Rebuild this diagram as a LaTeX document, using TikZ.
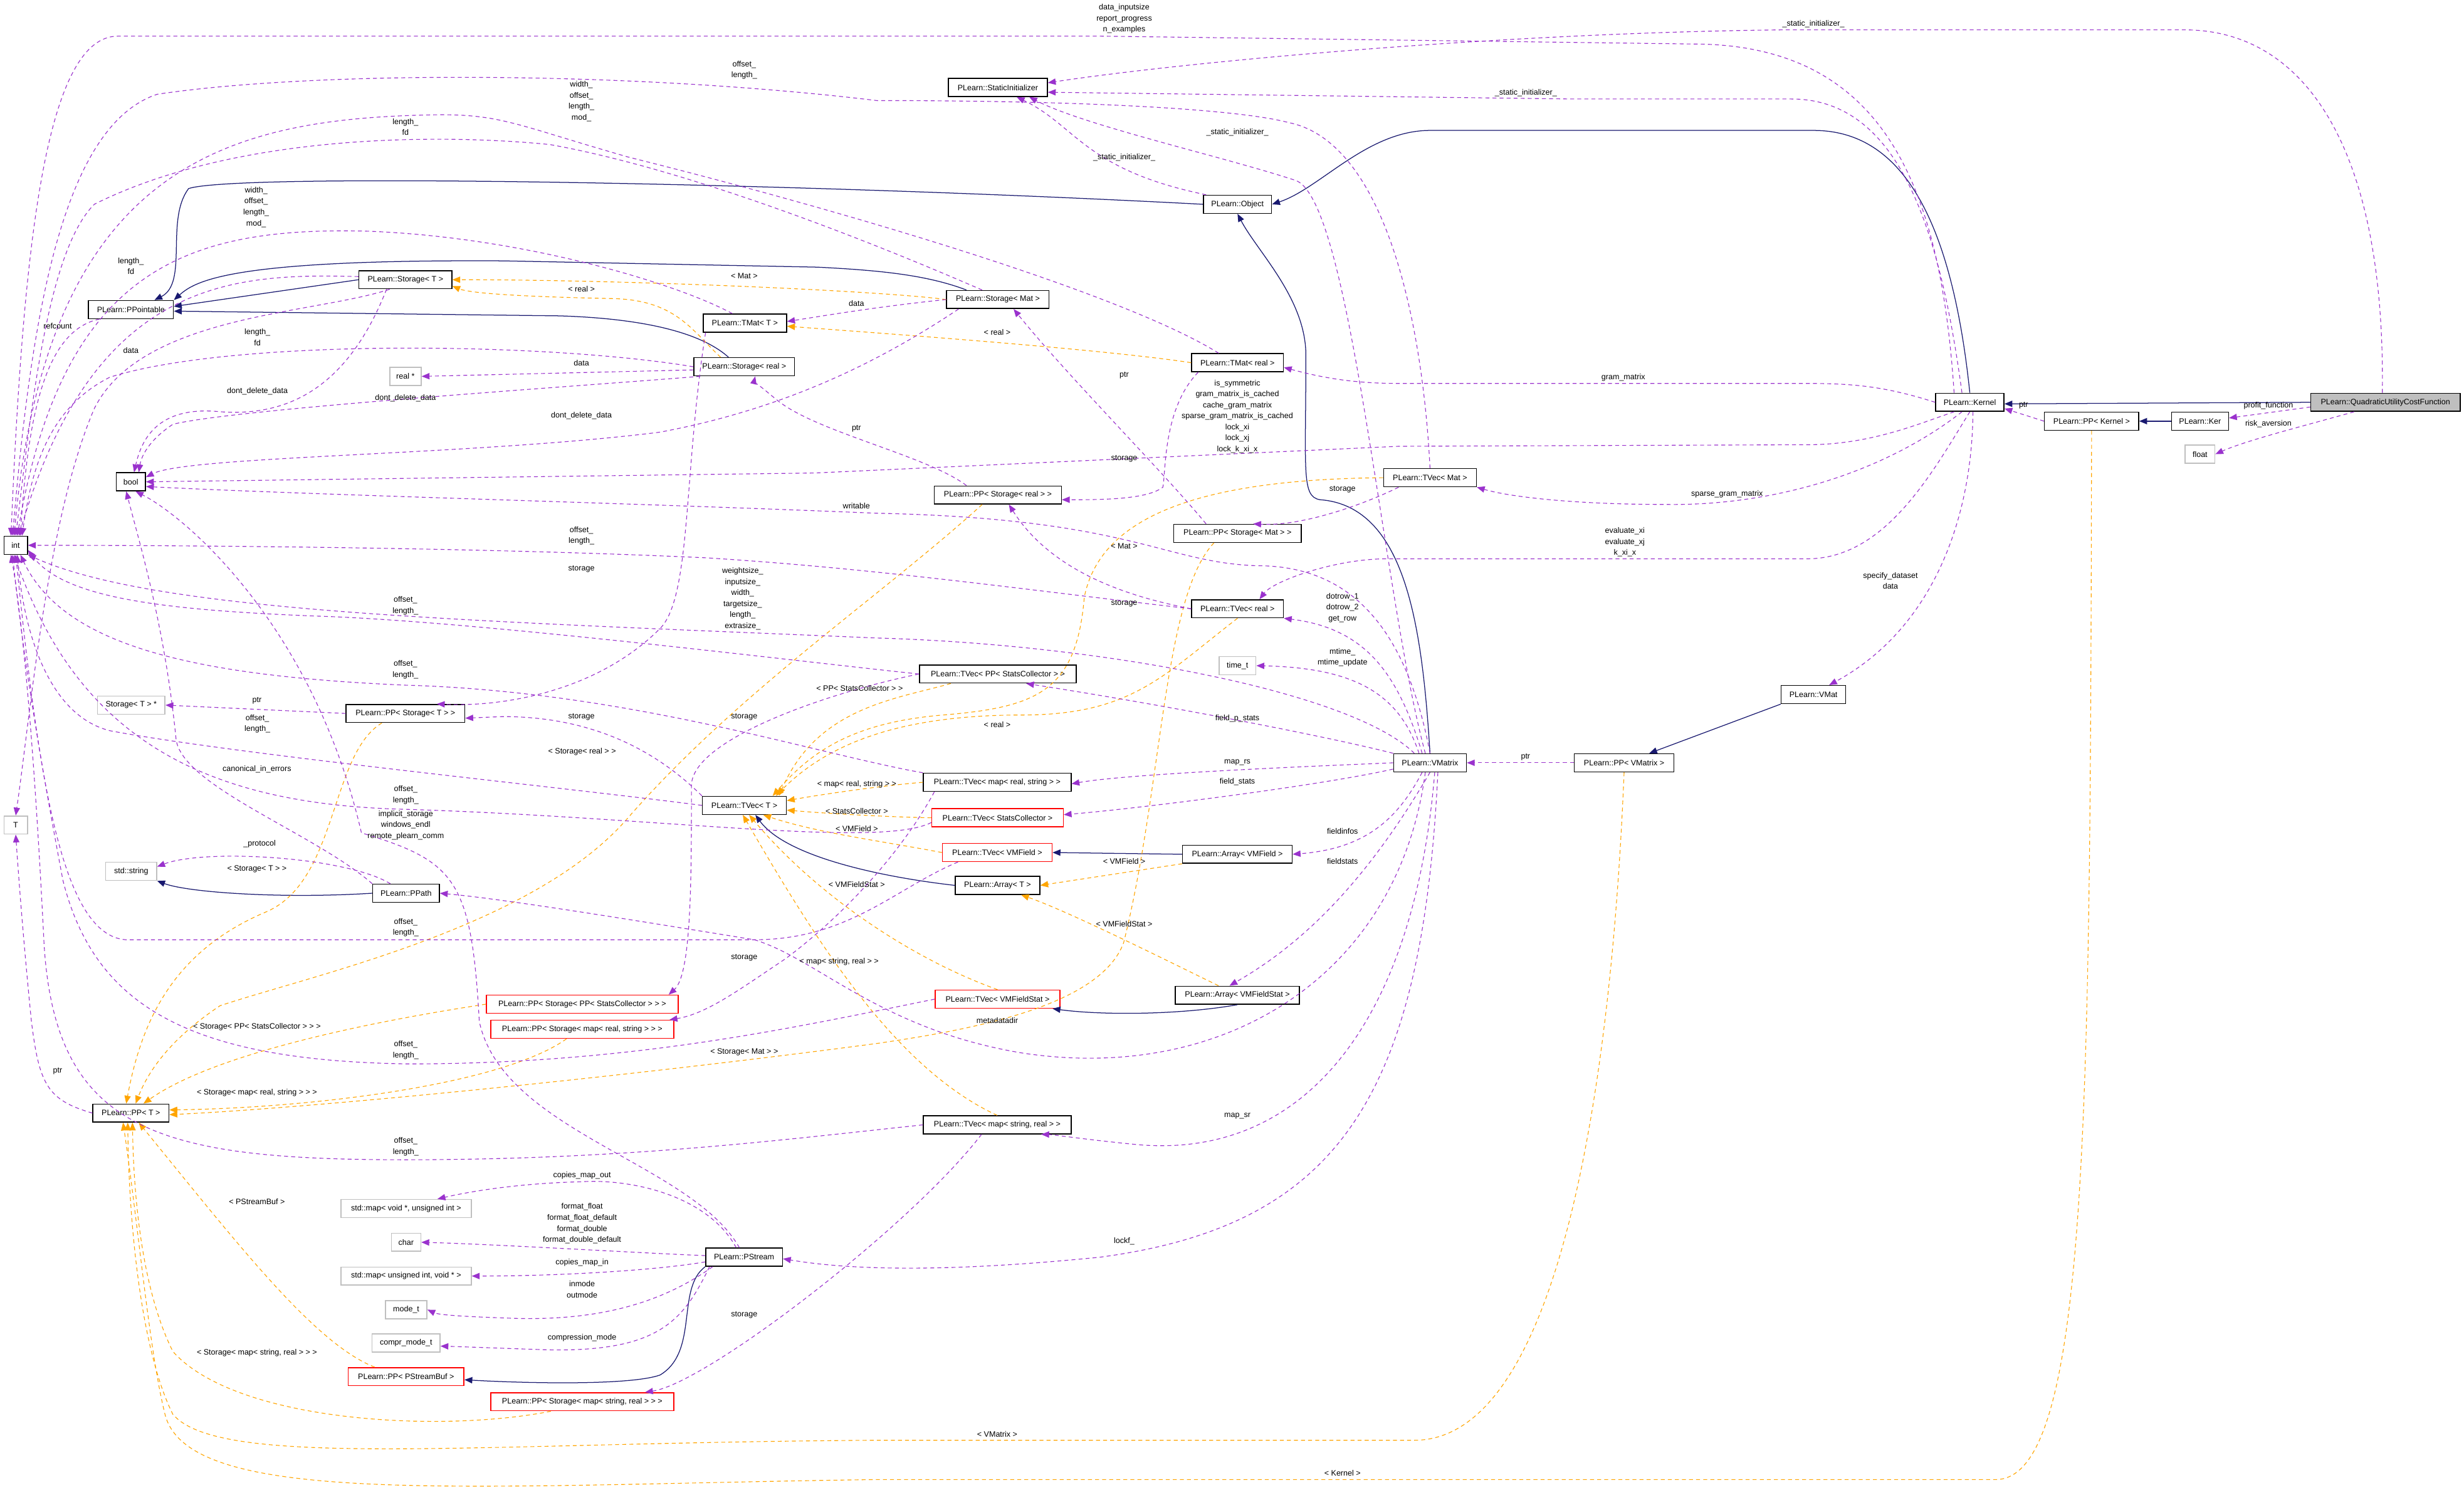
\documentclass[tikz,border=0pt]{standalone}
\usepackage{fontspec}
\setmainfont{Liberation Sans}
\usetikzlibrary{arrows.meta}
\definecolor{pu}{HTML}{9A32CD}
\definecolor{nv}{HTML}{191970}
\definecolor{og}{HTML}{FFA500}
\begin{document}
\begin{tikzpicture}[x=1pt,y=-1pt,
 cls/.style={draw=black,line width=0.6pt,minimum height=11.5pt,inner xsep=2pt,inner ysep=0pt,font=\fontsize{5}{6}\selectfont,fill=white},
 gcls/.style={cls,draw=black!25},
 rcls/.style={cls,draw=red},
 lbl/.style={font=\fontsize{5}{7}\selectfont,inner sep=0pt,align=center},
 pe/.style={draw=pu,line width=0.45pt,dash pattern=on 2.5pt off 2pt,-{Triangle[length=5pt,width=4pt]}},
 oe/.style={draw=og,line width=0.45pt,dash pattern=on 2.5pt off 2pt,-{Triangle[length=5pt,width=4pt]}},
 ne/.style={draw=nv,line width=0.5pt,-{Triangle[length=5pt,width=4pt]}}]
\useasboundingbox[fill=white] (0,0) rectangle (1568,954.5);
% nodes
\node[cls,fill=black!25,minimum width=95pt] (q) at (1518,256) {PLearn::QuadraticUtilityCostFunction};
\node[cls,minimum width=43.5pt] (kernel) at (1253.5,256) {PLearn::Kernel};
\node[cls,minimum width=60pt] (ppk) at (1331,268) {PLearn::PP< Kernel >};
\node[cls,minimum width=36.3pt] (ker) at (1400,268) {PLearn::Ker};
\node[gcls,minimum width=19pt] (float) at (1400,289) {float};
\node[cls,minimum width=41pt] (vmat) at (1154,442) {PLearn::VMat};
\node[cls,minimum width=63pt] (si) at (635,55.7) {PLearn::StaticInitializer};
\node[cls,minimum width=43.4pt] (obj) at (787.5,130) {PLearn::Object};
\node[cls,minimum width=65.2pt] (stmat) at (635,190.6) {PLearn::Storage< Mat >};
\node[cls,minimum width=58.4pt] (tmatr) at (787.5,230.8) {PLearn::TMat< real >};
\node[cls,minimum width=59pt] (tvmat) at (910,304) {PLearn::TVec< Mat >};
\node[cls,minimum width=80.8pt] (ppsr) at (635,315) {PLearn::PP< Storage< real > >};
\node[cls,minimum width=81.2pt] (ppsm) at (787.5,339.4) {PLearn::PP< Storage< Mat > >};
\node[cls,minimum width=58.4pt] (tvr) at (787.5,387.4) {PLearn::TVec< real >};
\node[gcls,minimum width=23.4pt] (timet) at (787.5,423.6) {time\_t};
\node[cls,minimum width=99.8pt] (tvppsc) at (635,428.9) {PLearn::TVec< PP< StatsCollector > >};
\node[cls,minimum width=59.1pt] (stt) at (258,178) {PLearn::Storage< T >};
\node[cls,minimum width=54.1pt] (ppt) at (83.3,197) {PLearn::PPointable};
\node[cls,minimum width=53.1pt] (tmatt) at (474,205.6) {PLearn::TMat< T >};
\node[cls,minimum width=64.1pt] (streal) at (473.6,233.4) {PLearn::Storage< real >};
\node[gcls,minimum width=20pt] (realp) at (258,239.5) {real *};
\node[cls,minimum width=18.6pt] (bool) at (83.3,306.6) {bool};
\node[cls,minimum width=15pt] (int) at (10,347) {int};
\node[gcls,minimum width=43pt] (sttp) at (83.5,448.7) {Storage< T > *};
\node[cls,minimum width=75.6pt] (ppst) at (258,454) {PLearn::PP< Storage< T > >};
\node[gcls,minimum width=15pt] (T) at (10,525) {T};
\node[cls,minimum width=53.4pt] (tvt) at (473.7,512.5) {PLearn::TVec< T >};
\node[gcls,minimum width=32.4pt] (str) at (83.5,554.5) {std::string};
\node[cls,minimum width=42.4pt] (ppath) at (258.4,568.4) {PLearn::PPath};
\node[rcls,minimum width=122pt] (ppspsc) at (370.5,639) {PLearn::PP< Storage< PP< StatsCollector > > >};
\node[rcls,minimum width=116.5pt] (ppsmrs) at (370.5,655) {PLearn::PP< Storage< map< real, string > > >};
\node[cls,minimum width=48.4pt] (ppT) at (83.3,708.3) {PLearn::PP< T >};
\node[gcls,minimum width=83pt] (mapv) at (258.4,769) {std::map< void *, unsigned int >};
\node[gcls,minimum width=18.8pt] (char) at (258.4,790.5) {char};
\node[cls,minimum width=48.9pt] (pstream) at (473.5,800) {PLearn::PStream};
\node[gcls,minimum width=83pt] (mapu) at (258.4,812) {std::map< unsigned int, void * >};
\node[gcls,minimum width=26.3pt] (modet) at (258.5,833.4) {mode\_t};
\node[gcls,minimum width=43.2pt] (comprt) at (258.4,854.6) {compr\_mode\_t};
\node[rcls,minimum width=73.7pt] (pppsb) at (258.4,876) {PLearn::PP< PStreamBuf >};
\node[rcls,minimum width=116.5pt] (ppsmsr) at (370.5,892) {PLearn::PP< Storage< map< string, real > > >};
\node[cls,minimum width=46.3pt] (vmatrix) at (910,485.4) {PLearn::VMatrix};
\node[cls,minimum width=63.4pt] (ppvm) at (1033.5,485.4) {PLearn::PP< VMatrix >};
\node[cls,minimum width=94pt] (tvmrs) at (634.6,497.8) {PLearn::TVec< map< real, string > >};
\node[rcls,minimum width=83.6pt] (tvsc) at (634.8,520.4) {PLearn::TVec< StatsCollector >};
\node[rcls,minimum width=69.8pt] (tvvmf) at (634.6,542.5) {PLearn::TVec< VMField >};
\node[cls,minimum width=69.8pt] (arrvmf) at (787.4,543.6) {PLearn::Array< VMField >};
\node[cls,minimum width=53.8pt] (arrt) at (634.8,563.4) {PLearn::Array< T >};
\node[rcls,minimum width=79.4pt] (tvvmfs) at (634.8,635.8) {PLearn::TVec< VMFieldStat >};
\node[cls,minimum width=79.1pt] (arrvmfs) at (787.4,633.3) {PLearn::Array< VMFieldStat >};
\node[cls,minimum width=94pt] (tvmsr) at (634.6,715.8) {PLearn::TVec< map< string, real > >};
% navy
\draw[ne] (q.west) -- ([yshift=-1]kernel.east);
\draw[ne] (ker.west) -- (ppk.east);
\draw[ne] (kernel.north) .. controls (1240,120) and (1200,83) .. (1154,83) -- (910,83) .. controls (870,83) and (840,120) .. (obj.east);
\draw[ne] (vmatrix.north) .. controls (905,400) and (895,322) .. (840,318) .. controls (828,316) and (831,300) .. (831,226) .. controls (831,190) and (800,160) .. (obj.south);
\draw[ne] (obj.west) .. controls (500,116) and (150,110) .. (120,120) .. controls (105,140) and (120,180) .. ([xshift=15]ppt.north);
\draw[ne] (stt.west) -- ([yshift=2]ppt.east);
\draw[ne] ([xshift=-20]stmat.north) .. controls (590,175) and (560,172) .. (520,170) -- (320,166) .. controls (150,165) and (125,178) .. (ppt.north east);
\draw[ne] ([xshift=-10]streal.north) .. controls (450,215) and (420,203) .. (356,201) -- ([yshift=-1]ppt.east);
\draw[ne] (vmat.south west) -- ([xshift=16]ppvm.north);
\draw[ne] (arrvmf.west) -- (tvvmf.east);
\draw[ne] (arrvmfs.south) .. controls (750,646) and (700,646) .. ([xshift=-5]tvvmfs.south east);
\draw[ne] (arrt.west) .. controls (560,558) and (500,545) .. ([xshift=7]tvt.south);
\draw[ne] (pstream.south west) .. controls (430,820) and (445,860) .. (420,875) .. controls (400,882) and (330,880) .. ([yshift=-2]pppsb.east);
\draw[ne] (ppath.west) .. controls (180,572) and (120,568) .. (str.south east);
% orange
\draw[oe] (stmat.west) .. controls (560,185) and (400,178) .. (stt.east);
\draw[oe] ([xshift=-15]streal.north) .. controls (440,210) and (430,191) .. (390,190) .. controls (340,189) and (300,187) .. ([yshift=-4]stt.east);
\draw[oe] (tmatr.west) .. controls (700,222) and (560,212) .. ([yshift=-2]tmatt.east);
\draw[oe] (tvmat.west) .. controls (760,305) and (700,330) .. (690,380) .. controls (685,440) and (660,450) .. (600,455) .. controls (540,460) and (515,480) .. ([xshift=18]tvt.north);
\draw[oe] (tvr.south) .. controls (740,430) and (720,455) .. (650,455) .. controls (560,455) and (520,480) .. ([xshift=20]tvt.north);
\draw[oe] ([xshift=-30]tvppsc.south) .. controls (570,445) and (520,450) .. ([xshift=22]tvt.north);
\draw[oe] (tvmrs.west) .. controls (560,500) and (520,506) .. ([yshift=3]tvt.east);
\draw[oe] (tvsc.west) .. controls (570,520) and (530,518) .. ([yshift=-3]tvt.east);
\draw[oe] (tvvmf.west) .. controls (560,535) and (520,530) .. ([xshift=12]tvt.south);
\draw[oe] (tvvmfs.north) .. controls (580,610) and (520,570) .. ([xshift=3]tvt.south);
\draw[oe] (tvmsr.north) .. controls (570,680) and (520,600) .. ([xshift=-1]tvt.south);
\draw[oe] (arrvmf.south west) -- (arrt.east);
\draw[oe] ([xshift=-12]arrvmfs.north) .. controls (740,610) and (680,580) .. ([xshift=15]arrt.south);
\draw[oe] ([xshift=-15]ppst.south) .. controls (210,480) and (215,560) .. (170,580) .. controls (110,605) and (90,650) .. ([xshift=-3]ppT.north);
\draw[oe] ([xshift=-10]ppsr.south) .. controls (560,380) and (470,440) .. (400,520) .. controls (340,590) and (200,620) .. (140,640) .. controls (110,660) and (95,680) .. ([xshift=3]ppT.north);
\draw[oe] ([xshift=-15]ppsm.south) .. controls (740,380) and (740,500) .. (715,600) .. controls (700,640) and (620,655) .. (558,664) .. controls (400,685) and (200,705) .. ([yshift=-1]ppT.east);
\draw[oe] (ppspsc.west) .. controls (250,648) and (140,668) .. ([xshift=8]ppT.north);
\draw[oe] ([xshift=-10]ppsmrs.south) .. controls (320,690) and (200,705) .. ([yshift=2]ppT.east);
\draw[oe] ([xshift=-20]pppsb.north) .. controls (200,855) and (150,790) .. ([xshift=5]ppT.south);
\draw[oe] ([xshift=-20]ppsmsr.south) .. controls (280,912) and (150,905) .. (110,860) .. controls (90,820) and (85,760) .. ([xshift=1]ppT.south);
\draw[oe] (ppvm.south) .. controls (1025,700) and (990,916.5) .. (900,916.5) -- (558,916.5) .. controls (300,918) and (140,935) .. (110,900) .. controls (90,860) and (82,780) .. ([xshift=-2]ppT.south);
\draw[oe] (ppk.south) .. controls (1330,700) and (1330,941.5) .. (1270,941.5) -- (558,941.5) .. controls (300,945) and (120,960) .. (105,900) .. controls (95,860) and (88,780) .. ([xshift=-5]ppT.south);
% purple
\draw[pe] ([yshift=-3]q.west) -- ([yshift=2]ker.east);
\draw[pe] ([xshift=-20]q.south) .. controls (1470,270) and (1430,280) .. (float.east);
\draw[pe] ([xshift=-2]q.north) .. controls (1518,100) and (1470,19) .. (1390,19) -- (1135,19) .. controls (950,21) and (750,40) .. ([yshift=3]si.east);
\draw[pe] ([xshift=-5]kernel.north) .. controls (1235,150) and (1210,63) .. (1140,63) -- (1000,63) -- ([yshift=-3]si.east);
\draw[pe] ([xshift=-10]kernel.north) .. controls (1235,120) and (1200,28) .. (1077,28) -- (700,23) -- (75,23) .. controls (30,23) and (15,150) .. ([xshift=-3]int.north);
\draw[pe] (kernel.west) .. controls (1200,246) and (1180,244) .. (1150,244) -- (890,244) .. controls (860,244) and (840,240) .. ([yshift=-3]tmatr.east);
\draw[pe] ([xshift=-10]kernel.south) .. controls (1220,270) and (1190,283) .. (1150,283) -- (890,284) -- (518,301) -- (bool.east);
\draw[pe] ([xshift=-5]kernel.south) .. controls (1200,300) and (1130,322) .. (1060,321) .. controls (1000,321) and (960,316) .. (tvmat.south east);
\draw[pe] (kernel.south) .. controls (1230,300) and (1200,355.6) .. (1150,355.6) -- (885,355.6) .. controls (850,355) and (810,370) .. ([xshift=14]tvr.north);
\draw[pe] ([xshift=2]kernel.south) .. controls (1255,330) and (1230,400) .. ([xshift=10]vmat.north);
\draw[pe] (ppk.west) -- ([yshift=-4]kernel.east);
\draw[pe] ([xshift=-20]obj.north) .. controls (690,108) and (685,80) .. ([xshift=12]si.south);
\draw[pe] ([xshift=-3]vmatrix.north) .. controls (880,380) and (860,130) .. (825,115) .. controls (780,100) and (690,80) .. ([xshift=20]si.south);
\draw[pe] (tvmat.north) .. controls (905,200) and (880,90) .. (820,78) .. controls (790,70) and (700,64) .. (558,64) .. controls (400,45) and (200,45) .. (100,60) .. controls (40,80) and (20,200) .. ([xshift=-2]int.north);
\draw[pe] ([xshift=-12]tmatr.north) .. controls (720,190) and (560,140) .. (400,100) .. controls (330,80) and (320,73) .. (280,73) .. controls (150,75) and (30,100) .. ([xshift=-1]int.north);
\draw[pe] ([xshift=-10]stmat.north) .. controls (580,165) and (450,110) .. (350,92) .. controls (280,85) and (150,85) .. (60,130) .. controls (30,160) and (20,260) .. (int.north);
\draw[pe] ([xshift=-8]tmatt.north) .. controls (430,180) and (330,150) .. (230,147) .. controls (120,145) and (40,170) .. ([xshift=1]int.north);
\draw[pe] ([yshift=2]stt.west) .. controls (150,174) and (60,176) .. ([xshift=2]int.north);
\draw[pe] ([xshift=-20]ppt.south) .. controls (30,210) and (18,260) .. ([xshift=3]int.north);
\draw[pe] (streal.west) .. controls (350,218) and (150,215) .. (70,240) .. controls (30,260) and (20,300) .. ([xshift=4]int.north);
\draw[pe] ([xshift=-10]stt.south) .. controls (200,200) and (90,200) .. (60,260) .. controls (30,330) and (20,450) .. (T.north);
\draw[pe] ([yshift=-2]streal.west) -- (realp.east);
\draw[pe] ([xshift=-12]stt.south) .. controls (220,250) and (180,265) .. (140,262) .. controls (100,258) and (90,280) .. ([xshift=2]bool.north);
\draw[pe] ([xshift=-28]streal.south) .. controls (380,245) and (150,260) .. (110,270) .. controls (95,280) and (90,290) .. ([xshift=5]bool.north);
\draw[pe] ([xshift=-25]stmat.south) .. controls (560,230) and (500,260) .. (420,275) .. controls (300,290) and (120,290) .. ([yshift=3]bool.east);
\draw[pe] (vmatrix.north) .. controls (895,400) and (860,360) .. (800,360) .. controls (740,358) and (720,330) .. (558,326.6) .. controls (400,320) and (200,315) .. ([yshift=-3]bool.east);
\draw[pe] (tvr.west) .. controls (650,375) and (560,362) .. (450,355) .. controls (300,348) and (100,347) .. (int.east);
\draw[pe] ([xshift=-10]vmatrix.north) .. controls (860,440) and (700,410) .. (558,406) .. controls (300,395) and (100,390) .. (int.south east);
\draw[pe] (tvppsc.west) .. controls (500,420) and (300,395) .. (200,392) .. controls (100,388) and (40,380) .. ([yshift=-3]int.east);
\draw[pe] (tvmrs.north west) .. controls (520,480) and (400,440) .. (258,436) .. controls (120,430) and (40,410) .. ([xshift=3]int.south);
\draw[pe] (tvt.west) .. controls (350,500) and (150,480) .. (70,465) .. controls (30,455) and (15,400) .. ([xshift=1]int.south);
\draw[pe] ([yshift=-3]tvsc.west) .. controls (560,540) and (420,520) .. (258,515) .. controls (130,512) and (50,470) .. ([xshift=-1]int.south);
\draw[pe] ([xshift=-25]tvvmf.south) .. controls (570,565) and (540,598) .. (480,598) -- (80,598) .. controls (40,595) and (25,500) .. (int.south);
\draw[pe] (tvvmfs.west) .. controls (500,655) and (400,677) .. (260,677) .. controls (120,675) and (60,640) .. (40,560) .. controls (25,480) and (15,420) .. ([xshift=-2]int.south);
\draw[pe] (tvmsr.west) .. controls (500,725) and (400,738) .. (258,738) .. controls (100,738) and (35,720) .. (28,600) .. controls (22,480) and (15,400) .. ([xshift=-3]int.south);
\draw[pe] (ppst.west) -- (sttp.east);
\draw[pe] (tvt.north west) .. controls (420,480) and (380,456) .. (320,456) -- ([yshift=-3]ppst.east);
\draw[pe] ([xshift=-25]tmatt.south) .. controls (435,300) and (440,380) .. (420,400) .. controls (380,440) and (320,450) .. ([xshift=20]ppst.north);
\draw[pe] (tvppsc.west) .. controls (530,440) and (440,470) .. (440,500) .. controls (440,560) and (440,620) .. ([xshift=55]ppspsc.north);
\draw[pe] ([xshift=-40]tvmrs.south) .. controls (575,540) and (540,580) .. (500,610) .. controls (470,630) and (450,645) .. ([xshift=-3]ppsmrs.north east);
\draw[pe] ([xshift=-20]ppsr.north) .. controls (590,290) and (520,275) .. (495,255) .. controls (485,247) and (480,242) .. ([xshift=7]streal.south);
\draw[pe] ([xshift=-20]ppsm.north) .. controls (740,300) and (680,240) .. ([xshift=10]stmat.south);
\draw[pe] (stmat.west) .. controls (560,195) and (530,200) .. ([yshift=1]tmatt.east);
\draw[pe] ([xshift=-25]tmatr.south) .. controls (740,260) and (742,300) .. (740,310) .. controls (730,318) and (700,318) .. ([yshift=-3]ppsr.east);
\draw[pe] ([xshift=-20]tvmat.south) .. controls (870,320) and (830,335) .. ([xshift=10]ppsm.north);
\draw[pe] (tvr.west) .. controls (720,380) and (670,365) .. ([xshift=7]ppsr.south);
\draw[pe] ([xshift=-5]vmatrix.north) .. controls (890,430) and (870,400) .. (tvr.south east);
\draw[pe] ([xshift=-7]vmatrix.north) .. controls (890,440) and (860,425) .. (timet.east);
\draw[pe] (vmatrix.north west) .. controls (850,470) and (750,450) .. ([xshift=18]tvppsc.south);
\draw[pe] (vmatrix.west) .. controls (850,487) and (720,492) .. ([yshift=-1]tvmrs.east);
\draw[pe] ([yshift=-4]vmatrix.west) .. controls (840,500) and (720,515) .. ([yshift=2]tvsc.east);
\draw[pe] ([xshift=-5]vmatrix.south) .. controls (890,520) and (870,540) .. (arrvmf.east);
\draw[pe] (vmatrix.south) .. controls (870,560) and (830,600) .. ([xshift=-5]arrvmfs.north);
\draw[pe] (ppvm.west) -- (vmatrix.east);
\draw[pe] ([xshift=-3]vmatrix.south) .. controls (890,620) and (780,690) .. (650,670) .. controls (560,655) and (520,610) .. (480,598) .. controls (400,585) and (320,572) .. (ppath.east);
\draw[pe] ([xshift=3]vmatrix.south) .. controls (900,650) and (830,740) .. (720,728) .. controls (690,725) and (670,722) .. ([xshift=28]tvmsr.south);
\draw[pe] ([xshift=5]vmatrix.south) .. controls (905,700) and (850,780) .. (700,800) .. controls (600,810) and (540,808) .. ([yshift=-1]pstream.east);
\draw[pe] (ppT.west) .. controls (30,700) and (25,690) .. (20,650) .. controls (15,600) and (12,560) .. (T.south);
\draw[pe] (ppath.north west) .. controls (200,530) and (115,500) .. (112,470) .. controls (105,400) and (90,350) .. ([xshift=-3]bool.south);
\draw[pe] ([xshift=-3]pstream.north) .. controls (440,740) and (320,720) .. (305,650) .. controls (300,560) and (290,548) .. (230,530) .. controls (200,400) and (120,330) .. ([xshift=3]bool.south);
\draw[pe] ([xshift=-10]ppath.north) .. controls (220,545) and (130,540) .. ([yshift=3]str.east);
\draw[pe] ([xshift=-5]pstream.north) .. controls (450,760) and (400,750) .. (370,752) .. controls (330,753) and (300,758) .. ([xshift=20]mapv.north);
\draw[pe] ([yshift=1]pstream.west) .. controls (400,797) and (320,792) .. (char.east);
\draw[pe] ([yshift=-3]pstream.west) .. controls (420,808) and (360,812) .. (mapu.east);
\draw[pe] ([xshift=-20]pstream.south) .. controls (420,830) and (380,840) .. (330,839) .. controls (300,838) and (280,837) .. (modet.east);
\draw[pe] ([xshift=-22]pstream.south) .. controls (435,840) and (420,860) .. (350,859) .. controls (320,858) and (295,857) .. ([yshift=-2]comprt.east);
\draw[pe] ([xshift=-10]tvmsr.south) .. controls (580,780) and (450,880) .. ([xshift=40]ppsmsr.north);
% labels
\node[lbl] (l1) at (1443.5,258.2) {profit\_function};
\node[lbl] (l2) at (1443.5,269.8) {risk\_aversion};
\node[lbl] (l3) at (1154,15.3) {\_static\_initializer\_};
\node[lbl] (l4) at (971,59) {\_static\_initializer\_};
\node[lbl] (l5) at (715.4,12) {data\_inputsize\\report\_progress\\n\_examples};
\node[lbl] (l6) at (1033,240.2) {gram\_matrix};
\node[lbl] (l7) at (787.4,265) {is\_symmetric\\gram\_matrix\_is\_cached\\cache\_gram\_matrix\\sparse\_gram\_matrix\_is\_cached\\lock\_xi\\lock\_xj\\lock\_k\_xi\_x};
\node[lbl] (l8) at (1099,314.5) {sparse\_gram\_matrix};
\node[lbl] (l9) at (1034,345) {evaluate\_xi\\evaluate\_xj\\k\_xi\_x};
\node[lbl] (l10) at (1203,369.5) {specify\_dataset\\data};
\node[lbl] (l11) at (1287.7,257.8) {ptr};
\node[lbl] (l12) at (715.4,100.1) {\_static\_initializer\_};
\node[lbl] (l13) at (787.4,84.2) {\_static\_initializer\_};
\node[lbl] (l14) at (473.6,44.5) {offset\_\\length\_};
\node[lbl] (l15) at (370,64.5) {width\_\\offset\_\\length\_\\mod\_};
\node[lbl] (l16) at (258,80.8) {length\_\\fd};
\node[lbl] (l17) at (163,131.8) {width\_\\offset\_\\length\_\\mod\_};
\node[lbl] (l18) at (83.3,169.3) {length\_\\fd};
\node[lbl] (l19) at (36.7,207.3) {refcount};
\node[lbl] (l20) at (83.3,223) {data};
\node[lbl] (l21) at (163.8,214.7) {length\_\\fd};
\node[lbl] (l22) at (370,231) {data};
\node[lbl] (l23) at (163.8,248.8) {dont\_delete\_data};
\node[lbl] (l24) at (258,253.4) {dont\_delete\_data};
\node[lbl] (l25) at (370,264.7) {dont\_delete\_data};
\node[lbl] (l26) at (473.6,175.5) {< Mat >};
\node[lbl] (l27) at (370,183.8) {< real >};
\node[lbl] (l28) at (634.6,211.5) {< real >};
\node[lbl] (l29) at (545,193) {data};
\node[lbl] (l30) at (545,272.6) {ptr};
\node[lbl] (l31) at (715.4,239) {ptr};
\node[lbl] (l32) at (715.4,291.8) {storage};
\node[lbl] (l33) at (854.3,311.4) {storage};
\node[lbl] (l34) at (545,322) {writable};
\node[lbl] (l35) at (370,341) {offset\_\\length\_};
\node[lbl] (l36) at (370,362) {storage};
\node[lbl] (l37) at (472.6,381) {weightsize\_\\inputsize\_\\width\_\\targetsize\_\\length\_\\extrasize\_};
\node[lbl] (l38) at (258,385.5) {offset\_\\length\_};
\node[lbl] (l39) at (258,426) {offset\_\\length\_};
\node[lbl] (l40) at (163.5,446) {ptr};
\node[lbl] (l41) at (163.8,460.6) {offset\_\\length\_};
\node[lbl] (l42) at (370,456.4) {storage};
\node[lbl] (l43) at (473.6,456.4) {storage};
\node[lbl] (l44) at (715.4,347.5) {< Mat >};
\node[lbl] (l45) at (715.4,384) {storage};
\node[lbl] (l46) at (634.6,461) {< real >};
\node[lbl] (l47) at (547,438) {< PP< StatsCollector > >};
\node[lbl] (l48) at (854.3,386.8) {dotrow\_1\\dotrow\_2\\get\_row};
\node[lbl] (l49) at (854.3,418.4) {mtime\_\\mtime\_update};
\node[lbl] (l50) at (787.4,457.3) {field\_p\_stats};
\node[lbl] (l51) at (370.4,478.3) {< Storage< real > >};
\node[lbl] (l52) at (163.5,489.4) {canonical\_in\_errors};
\node[lbl] (l53) at (258.2,505.8) {offset\_\\length\_};
\node[lbl] (l54) at (258.2,525.1) {implicit\_storage\\windows\_endl\\remote\_plearn\_comm};
\node[lbl] (l55) at (165.2,537) {\_protocol};
\node[lbl] (l56) at (163.5,553) {< Storage< T > >};
\node[lbl] (l57) at (258.2,590.2) {offset\_\\length\_};
\node[lbl] (l58) at (473.6,609.5) {storage};
\node[lbl] (l59) at (534,612) {< map< string, real > >};
\node[lbl] (l60) at (163.5,653.5) {< Storage< PP< StatsCollector > > >};
\node[lbl] (l61) at (258.2,668.3) {offset\_\\length\_};
\node[lbl] (l62) at (473.6,669.3) {< Storage< Mat > >};
\node[lbl] (l63) at (163.5,695.5) {< Storage< map< real, string > > >};
\node[lbl] (l64) at (36.7,681.6) {ptr};
\node[lbl] (l65) at (258.2,729.7) {offset\_\\length\_};
\node[lbl] (l66) at (370.4,748) {copies\_map\_out};
\node[lbl] (l67) at (163.5,764.5) {< PStreamBuf >};
\node[lbl] (l68) at (370.4,778.6) {format\_float\\format\_float\_default\\format\_double\\format\_double\_default};
\node[lbl] (l69) at (370.4,803.4) {copies\_map\_in};
\node[lbl] (l70) at (370.4,820.6) {inmode\\outmode};
\node[lbl] (l71) at (370.4,851.4) {compression\_mode};
\node[lbl] (l72) at (473.6,836.9) {storage};
\node[lbl] (l73) at (163.5,860.9) {< Storage< map< string, real > > >};
\node[lbl] (l74) at (634.6,912.8) {< VMatrix >};
\node[lbl] (l75) at (854.3,937.4) {< Kernel >};
\node[lbl] (l76) at (787.4,485.3) {map\_rs};
\node[lbl] (l77) at (787.4,497.6) {field\_stats};
\node[lbl] (l78) at (970.8,481.8) {ptr};
\node[lbl] (l79) at (545.2,499.2) {< map< real, string > >};
\node[lbl] (l80) at (545.2,516.2) {< StatsCollector >};
\node[lbl] (l81) at (545.2,527.3) {< VMField >};
\node[lbl] (l82) at (854.3,528.9) {fieldinfos};
\node[lbl] (l83) at (715.4,548.2) {< VMField >};
\node[lbl] (l84) at (854.3,548.2) {fieldstats};
\node[lbl] (l85) at (545.2,563) {< VMFieldStat >};
\node[lbl] (l86) at (715.4,588) {< VMFieldStat >};
\node[lbl] (l87) at (634.6,649.4) {metadatadir};
\node[lbl] (l88) at (787.4,710) {map\_sr};
\node[lbl] (l89) at (715.4,789.8) {lockf\_};
\end{tikzpicture}
\end{document}
